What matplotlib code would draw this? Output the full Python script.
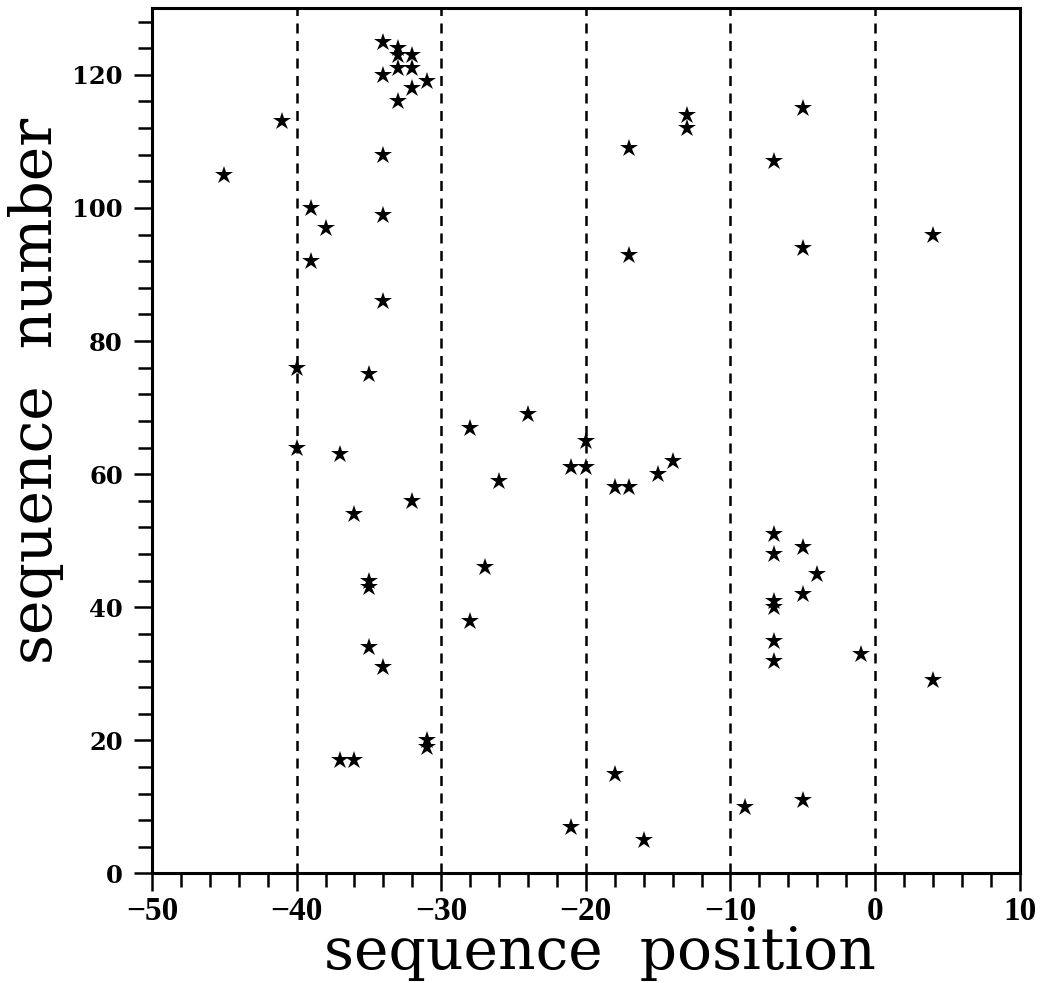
import numpy as np
import matplotlib
matplotlib.use("Agg")
import matplotlib.pyplot as plt
from matplotlib.ticker import MultipleLocator

# sequence position / sequence number of each starred site
positions = [-45, -41, -34, -33, -33, -32, -33, -32, -34, -31, -32, -33,
             -34, -39, -34, -38, -39, -34, -40, -35, -28, -40, -37, -32,
             -36, -27, -35, -35, -28, -35, -34, -37, -36, -31, -31,
             -13, -13, -17, -17, -24, -20, -21, -20, -14, -15, -18, -17,
             -26, -21, -18, -16, -9,
             -5, -7, -5, 4, -7, -7, -5, -4, -5, -7, -7, -7, -7, -1, 4, -5]
numbers = [105, 113, 125, 124, 123, 123, 121, 121, 120, 119, 118, 116,
           108, 100, 99, 97, 92, 86, 76, 75, 67, 64, 63, 56,
           54, 46, 44, 43, 38, 34, 31, 17, 17, 20, 19,
           114, 112, 109, 93, 69, 65, 61, 61, 62, 60, 58, 58,
           59, 7, 15, 5, 10,
           115, 107, 94, 96, 51, 48, 49, 45, 42, 41, 40, 35, 32, 33, 29, 11]
guide_lines = [-40, -30, -20, -10, 0]

fig = plt.figure(figsize=(10.48, 9.83), dpi=100)
ax = fig.add_axes([0.145, 0.1114, 0.828, 0.8802])

for gx in guide_lines:
    ax.axvline(gx, color="black", lw=1.8, ls=(0, (4, 3)), zorder=1)

ax.plot(positions, numbers, ls="none", marker="*", ms=13.5, color="black",
        markeredgewidth=0, zorder=3)

ax.set_xlim(-50, 10)
ax.set_ylim(0, 130)
ax.xaxis.set_major_locator(MultipleLocator(10))
ax.xaxis.set_minor_locator(MultipleLocator(2))
ax.yaxis.set_major_locator(MultipleLocator(20))
ax.yaxis.set_minor_locator(MultipleLocator(4))
ax.tick_params(which="both", direction="out", width=1.8, top=False, right=False)
ax.tick_params(which="major", length=13)
ax.tick_params(which="minor", length=10)
ax.tick_params(axis="y", pad=8)
for s in ax.spines.values():
    s.set_linewidth(2.2)

# x tick labels are narrow and tall, y tick labels wide and squat
for lab in ax.get_xticklabels():
    lab.set_fontfamily("Liberation Serif")
    lab.set_fontweight("bold")
    lab.set_fontsize(24)
for lab in ax.get_yticklabels():
    lab.set_fontfamily("DejaVu Serif")
    lab.set_fontweight("bold")
    lab.set_fontsize(17.5)

ax.set_xlabel("sequence  position", fontfamily="DejaVu Serif", fontsize=42)
ax.set_ylabel("sequence  number", fontfamily="DejaVu Serif", fontsize=42)
ax.xaxis.set_label_coords(0.516, -0.06)
ax.yaxis.set_label_coords(-0.101, 0.558)

plt.savefig("out.png", dpi=100)
